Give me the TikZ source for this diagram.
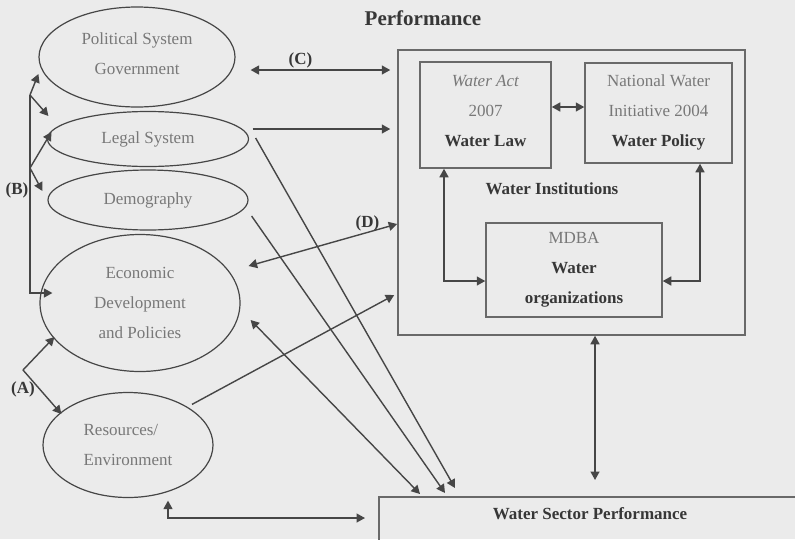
\documentclass[tikz,border=0pt]{standalone}
\usepackage{fontspec}
\setmainfont{Liberation Serif}
\usepackage{xcolor}
\usetikzlibrary{arrows.meta,shapes.geometric}

\definecolor{bgcol}{RGB}{235,235,235}
\definecolor{linecol}{RGB}{70,70,70}
\definecolor{greytext}{RGB}{120,120,120}
\definecolor{darktext}{RGB}{55,55,55}
\definecolor{boxcol}{RGB}{105,105,105}

\tikzset{
  oval/.style={ellipse,draw=linecol,line width=1.2pt,inner sep=0pt,text=greytext,align=center,font=\fontsize{17}{30}\selectfont},
  instbox/.style={rectangle,draw=boxcol,line width=1.5pt,inner sep=0pt,text=greytext,align=center,font=\fontsize{17}{30}\selectfont},
  boldtext/.style={text=darktext,font=\fontsize{17}{30}\selectfont\bfseries},
  tag/.style={text=darktext,font=\fontsize{17}{20}\selectfont\bfseries,inner sep=1pt},
  link/.style={draw=linecol,line width=1.4pt,>={Triangle[length=8.5pt,width=9pt]}}
}

\begin{document}
\begin{tikzpicture}[x=1pt,y=-1pt]
\fill[bgcol] (0,0) rectangle (795,539);
\useasboundingbox (0,0) rectangle (795,539);
\clip (0,0) rectangle (795,539);

\node[text=darktext,font=\fontsize{21}{24}\selectfont\bfseries] (title) at (423,18) {Performance};

% left hand ellipses
\node[oval,minimum width=196pt,minimum height=100pt] (pol) at (137,57) {Political System\\Government\rule[-6pt]{0pt}{0pt}};
\node[oval,minimum width=201pt,minimum height=55pt] (legal) at (148,139) {Legal System};
\node[oval,minimum width=200pt,minimum height=60pt] (demo) at (148,200) {Demography};
\node[oval,minimum width=200pt,minimum height=137pt] (econ) at (140,303) {Economic\\Development\\and Policies};
\node[oval,minimum width=170pt,minimum height=105pt,align=left] (res) at (128,445) {Resources/\\Environment};

% institutions
\node[instbox,minimum width=347pt,minimum height=285pt] (inst) at (571.5,192.5) {};
\node[instbox,minimum width=131pt,minimum height=106pt] (law) at (485.5,115) {\textit{Water Act}\\2007\\{\color{darktext}\bfseries Water Law}\rule[-8pt]{0pt}{0pt}};
\node[instbox,minimum width=147pt,minimum height=100pt] (policy) at (658.5,113) {National Water\\Initiative 2004\\{\color{darktext}\bfseries Water Policy}\rule[-5pt]{0pt}{0pt}};
\node[instbox,minimum width=176pt,minimum height=94pt] (mdba) at (574,270) {MDBA\\{\color{darktext}\bfseries Water}\\{\color{darktext}\bfseries organizations}};
\node[boldtext] (instlabel) at (552,189) {Water Institutions};

\node[instbox,minimum width=440pt,minimum height=70pt,anchor=north west] (wsp) at (378,496) {};
\node[boldtext] (wsplabel) at (590,514) {Water Sector Performance};

\node[tag] (tagA) at (23,389) {(A)};
\node[tag] (tagB) at (17,190) {(B)};

\coordinate (bTop) at (30,95);
\coordinate (bMid) at (30,168);
\coordinate (aFork) at (23,370);
\coordinate (cStart) at ([shift={(15pt,-13pt)}]pol.east);
\coordinate (legalOut) at ([shift={(3.5pt,10pt)}]legal.east);
\coordinate (instDown) at ([xshift=23.5pt]inst.south);

% (B) links
\draw[link,->] (bTop) -- ([yshift=-17pt]pol.west);
\draw[link,->] (bTop) -- ([shift={(1.5pt,23pt)}]legal.west);
\draw[link,->] (bMid) -- ([shift={(4.5pt,7pt)}]legal.west);
\draw[link,->] (bMid) -- ([shift={(-5pt,9pt)}]demo.west);
\draw[link,->] (bTop) |- ([shift={(13pt,10pt)}]econ.west);
% (A) links
\draw[link,->] (aFork) -- ([shift={(15pt,-34pt)}]econ.west);
\draw[link,->] (aFork) -- ([shift={(19pt,31pt)}]res.west);

\draw[link,<->,shorten >=7pt] (cStart) -- node[tag,above,pos=0.34] (tagC) {(C)} (cStart -| inst.west);
\draw[link,->,shorten >=7pt] (legalOut) -- (legalOut -| inst.west);
\draw[link,<->] ([shift={(8pt,37pt)}]econ.east) -- node[tag,above,pos=0.8] (tagD) {(D)} ([yshift=-31.5pt]inst.west);
\draw[link,->] ([shift={(64pt,-12.5pt)}]res.north) -- ([shift={(-3pt,-102.5pt)}]inst.west);

% into water sector performance
\draw[link,<->] ([shift={(10pt,-17pt)}]econ.east) -- ([shift={(42pt,2pt)}]wsp.north west);
\draw[link,->] ([shift={(6.5pt,1pt)}]legal.east) -- ([shift={(77pt,8pt)}]wsp.north west);
\draw[link,->] ([shift={(3pt,-16pt)}]demo.east) -- ([shift={(67pt,3pt)}]wsp.north west);
\draw[link,<->] ([shift={(40pt,-2.5pt)}]res.south) |- ([shift={(-13pt,-22pt)}]wsp.north west);
\draw[link,<->,shorten >=16pt] (instDown) -- (instDown |- wsp.north);

% inside the institutions
\draw[link,<->] ([yshift=8pt]law.east) -- ([yshift=6pt]policy.west);
\draw[link,<->] ([xshift=-41.5pt]law.south) |- ([yshift=-11pt]mdba.west);
\draw[link,<->] ([xshift=41.5pt]policy.south) |- ([yshift=-11pt]mdba.east);
\end{tikzpicture}
\end{document}
